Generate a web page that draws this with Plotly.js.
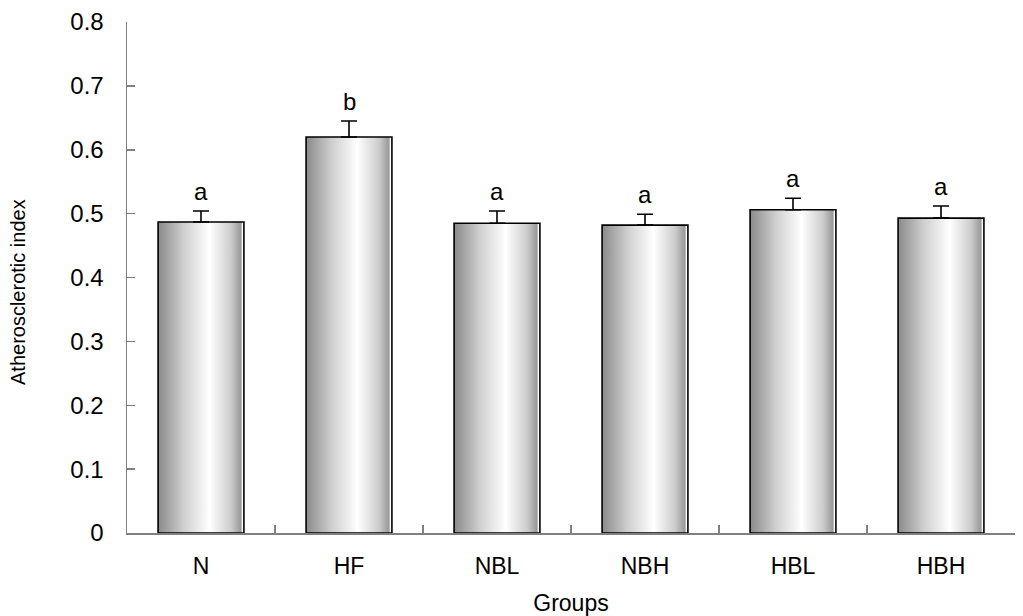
<!DOCTYPE html>
<html><head><meta charset="utf-8">
<script src="https://cdn.plot.ly/plotly-3.0.1.min.js"></script>
<style>body{margin:0;background:#fff}#chart{width:1023px;height:616px}</style>
</head><body><div id="chart"></div>
<script>
const categories = ["N", "HF", "NBL", "NBH", "HBL", "HBH"];
const values = [0.487, 0.620, 0.485, 0.482, 0.506, 0.493];
const errors = [0.017, 0.025, 0.019, 0.017, 0.018, 0.019];
const letters = ["a", "b", "a", "a", "a", "a"];
const yTicks = [0, 0.1, 0.2, 0.3, 0.4, 0.5, 0.6, 0.7, 0.8];
const yTitle = "Atherosclerotic index";
const xTitle = "Groups";

const FONT = "Liberation Sans, Arial, sans-serif";

const trace = {
  type: "bar",
  x: categories,
  y: values,
  marker: {color: "#c8c8c8", line: {color: "#000", width: 1.6}},
  error_y: {type: "data", symmetric: false, array: errors, arrayminus: errors.map(() => 0),
            color: "#000", thickness: 1.6, width: 8},
  hoverinfo: "none"
};

const annotations = categories.map((c, i) => ({
  x: c, y: values[i] + errors[i], text: letters[i], showarrow: false,
  yanchor: "bottom", yshift: 4, font: {family: FONT, size: 24, color: "#000"}
}));
annotations.push({
  xref: "paper", yref: "paper", x: 0, y: 0.4716, xanchor: "center", yanchor: "middle",
  xshift: -109, textangle: -90, showarrow: false, text: yTitle,
  font: {family: FONT, size: 20, color: "#000"}
});

const layout = {
  width: 1023, height: 616,
  margin: {l: 127, r: 8, t: 22, b: 83},
  paper_bgcolor: "#fff", plot_bgcolor: "#fff",
  bargap: 0.42,
  showlegend: false,
  xaxis: {
    showline: true, linecolor: "#808080", linewidth: 1.5,
    ticks: "inside", tickson: "boundaries", ticklen: 8, tickcolor: "#808080", tickwidth: 1.5,
    ticklabelstandoff: 12,
    tickfont: {family: FONT, size: 23, color: "#000"},
    title: {text: xTitle, font: {family: FONT, size: 23, color: "#000"}, standoff: 18},
    showgrid: false, zeroline: false
  },
  yaxis: {
    range: [0, 0.8], tickvals: yTicks, ticktext: yTicks.map(v => v === 0 ? "0" : v.toFixed(1)),
    showline: true, linecolor: "#808080", linewidth: 1.5,
    ticks: "inside", ticklen: 8, tickcolor: "#808080", tickwidth: 1.5,
    ticklabelstandoff: 17,
    tickfont: {family: FONT, size: 24, color: "#000"},
    showgrid: false, zeroline: false
  },
  annotations: annotations
};

Plotly.newPlot("chart", [trace], layout, {staticPlot: true, displayModeBar: false}).then(gd => {
  const svg = gd.querySelector(".main-svg");
  const ns = "http://www.w3.org/2000/svg";
  let defs = svg.querySelector("defs");
  if (!defs) { defs = document.createElementNS(ns, "defs"); svg.insertBefore(defs, svg.firstChild); }
  const grad = document.createElementNS(ns, "linearGradient");
  grad.setAttribute("id", "barGrad");
  grad.setAttribute("x1", "0"); grad.setAttribute("y1", "0");
  grad.setAttribute("x2", "1"); grad.setAttribute("y2", "0");
  [[0, "#8a8a8a"], [0.3, "#cfcfcf"], [0.6, "#ffffff"], [0.85, "#cccccc"], [0.97, "#969696"], [0.975, "#ffffff"], [1, "#ffffff"]].forEach(([o, c]) => {
    const s = document.createElementNS(ns, "stop");
    s.setAttribute("offset", o); s.setAttribute("stop-color", c);
    grad.appendChild(s);
  });
  defs.appendChild(grad);
  gd.querySelectorAll(".bars .point path").forEach(p => p.style.setProperty("fill", "url(#barGrad)"));
});
</script></body></html>
